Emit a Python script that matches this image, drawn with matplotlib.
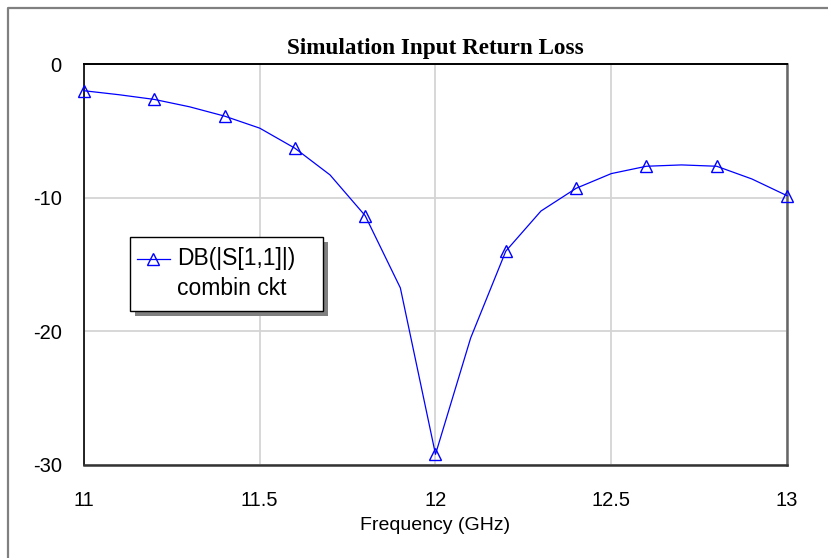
import matplotlib
matplotlib.use("Agg")
import matplotlib.pyplot as plt
from matplotlib.patches import Rectangle
from matplotlib.lines import Line2D
from matplotlib.ticker import FuncFormatter

# data
freq_ghz = [11.0, 11.1, 11.2, 11.3, 11.4, 11.5, 11.6, 11.7, 11.8, 11.9, 12.0,
            12.1, 12.2, 12.3, 12.4, 12.5, 12.6, 12.7, 12.8, 12.9, 13.0]
s11_db = [-2.0, -2.3, -2.65, -3.2, -3.9, -4.8, -6.3, -8.3, -11.35, -16.75, -29.2,
          -20.5, -14.0, -11.0, -9.3, -8.2, -7.65, -7.55, -7.65, -8.6, -9.85]
x_ticks = [11, 11.5, 12, 12.5, 13]
y_ticks = [0, -10, -20, -30]
chart_title = "Simulation Input Return Loss"
legend_lines = ["DB(|S[1,1]|)", "combin ckt"]

W, H = 829, 558
plt.rcParams['font.family'] = ['Liberation Sans', 'DejaVu Sans']
plt.rcParams['axes.unicode_minus'] = False

fig = plt.figure(figsize=(W / 100, H / 100), dpi=100)
ax = fig.add_axes([84 / W, 1 - 465 / H, (787 - 84) / W, (465 - 64) / H])

def fx(px):
	return px / W

def fy(py):
	return 1 - py / H

# outer frame: only the left and top edges show
fig.add_artist(Line2D([fx(8), fx(8), 1.2], [-0.2, fy(7.5), fy(7.5)],
                      transform=fig.transFigure, color="#808080", linewidth=1.6))

blue = "#0000ff"
ax.plot(freq_ghz, s11_db, color=blue, linewidth=0.9, marker="^", markevery=2,
        markersize=9, markerfacecolor="none", markeredgecolor=blue,
        markeredgewidth=1.0, clip_on=False, zorder=3)

ax.set_xlim(11, 13)
ax.set_ylim(-30, 0)
ax.set_xticks(x_ticks)
ax.set_yticks(y_ticks)
ax.xaxis.set_major_formatter(FuncFormatter(lambda v, p: "%g" % v))
ax.yaxis.set_major_formatter(FuncFormatter(lambda v, p: "%g" % v))
ax.tick_params(length=0, labelsize=14.5, colors="black")
ax.tick_params(axis="x", pad=18.5)
ax.tick_params(axis="y", pad=16)
ax.grid(True, color="#d4d4d4", linewidth=1.3)
ax.set_axisbelow(True)

ax.spines["left"].set_color("black")
ax.spines["top"].set_color("black")
ax.spines["left"].set_linewidth(1.2)
ax.spines["top"].set_linewidth(1.4)
ax.spines["bottom"].set_color("#333333")
ax.spines["bottom"].set_linewidth(1.8)
ax.spines["right"].set_color("#666666")
ax.spines["right"].set_linewidth(1.8)

ax.set_title(chart_title, family=["Liberation Serif", "DejaVu Serif"],
             fontweight="bold", fontsize=16.7, pad=7.5)
ax.set_xlabel("Frequency (GHz)", fontsize=14, labelpad=5)

# legend box with drop shadow, drawn by hand
fig.add_artist(Rectangle((fx(135), fy(316)), fx(193), fy(237) - fy(311),
                         transform=fig.transFigure, facecolor="#808080",
                         edgecolor="none", zorder=4))
fig.add_artist(Rectangle((fx(130), fy(311)), fx(193), fy(237) - fy(311),
                         transform=fig.transFigure, facecolor="white",
                         edgecolor="black", linewidth=1.0, zorder=5))
fig.add_artist(Line2D([fx(137), fx(170)], [fy(259), fy(259)], transform=fig.transFigure,
                      color=blue, linewidth=0.9, zorder=6))
fig.add_artist(Line2D([fx(153.5)], [fy(259)], transform=fig.transFigure,
                      marker="^", markersize=9, markerfacecolor="none",
                      markeredgecolor=blue, markeredgewidth=1.0, zorder=6))
fig.text(fx(177), fy(259), legend_lines[0], fontsize=16.5, va="center", ha="left", zorder=6)
fig.text(fx(177), fy(289), legend_lines[1], fontsize=16.5, va="center", ha="left", zorder=6)

fig.savefig("out.png", dpi=100)
